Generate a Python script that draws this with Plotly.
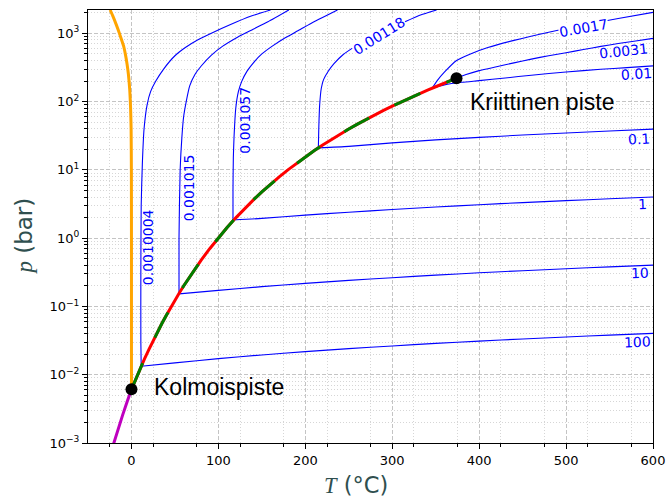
import math
import plotly.graph_objects as go

# ---------------- data (T in °C, p in bar) ----------------
# vaporization (saturation) curve
sat_T = [0.01, 5, 10, 15, 20, 25, 30, 35, 40, 45, 50, 55, 60, 70, 80, 90, 100, 110, 120,
         130, 140, 150, 160, 170, 180, 190, 200, 210, 220, 230, 240, 250, 260, 270, 280,
         290, 300, 310, 320, 330, 340, 350, 360, 370, 373.946]
sat_p = [0.006117, 0.008726, 0.012282, 0.017057, 0.023393, 0.031699, 0.042470, 0.056290,
         0.073849, 0.095950, 0.12352, 0.15761, 0.19946, 0.31201, 0.47416, 0.70183, 1.01418,
         1.4338, 1.9867, 2.7026, 3.6154, 4.7616, 6.1823, 7.9219, 10.028, 12.552, 15.549,
         19.077, 23.196, 27.971, 33.469, 39.762, 46.923, 55.030, 64.166, 74.418, 85.879,
         98.651, 112.84, 128.58, 146.01, 165.29, 186.66, 210.44, 220.64]

# melting curve
melt_T = [0.01, 0.0, -0.1, -0.4, -1.0, -2.0, -3.5, -5.0, -6.8, -9.0, -12.0, -15.0, -18.5, -21.5, -24.5]
melt_p = [0.006117, 1, 10, 40, 80, 150, 250, 350, 480, 650, 850, 1100, 1450, 1800, 2200]

# sublimation curve
sub_T = [-22, -20, -15, -10, -5, 0.01]
sub_p = [0.00085, 0.001035, 0.001653, 0.002600, 0.004018, 0.006117]

# isochores (specific volume in m3/kg)
iso_0010004_T = [11.2, 10.8, 10.8, 11.2, 12.5, 14.5, 18, 22, 28, 37, 50, 62, 76, 95, 114, 137, 160]
iso_0010004_p = [0.0133, 0.03, 0.3, 3, 12, 40, 90, 140, 200, 300, 470, 620, 800, 1050, 1350, 1780, 2200]

iso_001015_T = [54.7, 54.7, 56, 58, 60, 63, 67, 73, 80, 92, 105, 122, 140, 157, 181]
iso_001015_p = [0.153, 1, 10, 30, 60, 100, 170, 250, 330, 480, 650, 880, 1150, 1480, 2200]

iso_001057_T = [116.8, 116.8, 117.2, 118, 120, 123, 127, 133, 141, 150, 162, 176, 192, 210, 225, 237]
iso_001057_p = [1.85, 5, 15, 30, 80, 140, 200, 280, 380, 500, 650, 850, 1100, 1480, 1850, 2200]

iso_00118_T = [215, 215.5, 216.5, 218.4, 221, 226, 233, 243, 257, 274, 295, 316, 335, 351]
iso_00118_p = [20.8, 40, 89, 157, 210, 274, 360, 482, 640, 845, 1100, 1500, 1900, 2200]

iso_0017_T = [346, 352, 360, 374, 390, 410, 440, 480, 520, 560, 600]
iso_0017_p = [158, 205, 270, 400, 500, 620, 790, 1040, 1330, 1650, 2030]

iso_0031_T = [373.946, 385, 400, 420, 440, 460, 480, 500, 520, 540, 560, 580, 600]
iso_0031_p = [220.64, 250, 285, 325, 370, 420, 470, 520, 580, 645, 710, 775, 845]

iso_001_T = [346, 360, 380, 400, 430, 460, 500, 540, 570, 600]
iso_001_p = [158, 176, 192, 203, 222, 244, 272, 298, 315, 334]

iso_01_T = [215, 250, 300, 350, 400, 450, 500, 550, 600]
iso_01_p = [21.0, 22.1, 24.9, 27.5, 30.0, 32.4, 34.7, 37.2, 39.6]

iso_1_T = [116.8, 150, 200, 250, 300, 350, 400, 450, 500, 550, 600]
iso_1_p = [1.85, 1.95, 2.18, 2.40, 2.63, 2.86, 3.09, 3.32, 3.55, 3.78, 4.01]

iso_10_T = [54.7, 100, 150, 200, 250, 300, 350, 400, 450, 500, 550, 600]
iso_10_p = [0.153, 0.172, 0.195, 0.218, 0.241, 0.264, 0.288, 0.311, 0.334, 0.357, 0.380, 0.403]

iso_100_T = [11.2, 50, 100, 150, 200, 250, 300, 350, 400, 450, 500, 550, 600]
iso_100_p = [0.0133, 0.0149, 0.0172, 0.0195, 0.0218, 0.0241, 0.0264, 0.0288, 0.0311, 0.0334, 0.0357, 0.0380, 0.0403]

# isochore labels and where they sit
label_text = ["0.0010004", "0.001015", "0.001057", "0.00118", "0.0017", "0.0031",
              "0.01", "0.1", "1", "10", "100"]
label_T = [19.4, 66.3, 130.3, 284.5, 520, 566, 580.5, 584.4, 588.3, 585.4, 581.6]
label_p = [0.746, 5.39, 53.9, 930, 1200, 555, 252, 28.2, 3.16, 0.307, 0.0299]
label_angle = [-90, -90, -90, -32, -10, -6, -4, -3, -2, -2, -2]
label_inline = [False, False, False, True, True, False, False, False, False, False, False]

# special points
point_T = [0.01, 373.946]
point_p = [0.006117, 220.64]
point_name = ["Kolmoispiste", "Kriittinen piste"]
point_name_T = [24.1, 387.6]
point_name_p = [0.00667, 100]

x_tick_vals = [0, 100, 200, 300, 400, 500, 600]
x_tick_text = ["0", "100", "200", "300", "400", "500", "600"]
x_half_vals = [-50, 50, 150, 250, 350, 450, 550]
y_tick_vals = [1e-3, 1e-2, 1e-1, 1, 10, 100, 1000]
y_tick_text = ["10<sup>−3</sup>", "10<sup>−2</sup>", "10<sup>−1</sup>", "10<sup>0</sup>",
               "10<sup>1</sup>", "10<sup>2</sup>", "10<sup>3</sup>"]

# ---------------- figure ----------------
fig = go.Figure()

isochores = [
    (iso_0010004_T, iso_0010004_p), (iso_001015_T, iso_001015_p), (iso_001057_T, iso_001057_p),
    (iso_00118_T, iso_00118_p), (iso_0017_T, iso_0017_p), (iso_0031_T, iso_0031_p),
    (iso_001_T, iso_001_p), (iso_01_T, iso_01_p), (iso_1_T, iso_1_p),
    (iso_10_T, iso_10_p), (iso_100_T, iso_100_p),
]
for T, p in isochores:
    fig.add_trace(go.Scatter(x=T, y=p, mode="lines",
                             line=dict(color="#0000ff", width=1.1, shape="spline", smoothing=0.6),
                             hoverinfo="skip", showlegend=False))

fig.add_trace(go.Scatter(x=melt_T, y=melt_p, mode="lines",
                         line=dict(color="#ffa500", width=3, shape="spline", smoothing=0.6),
                         hoverinfo="skip", showlegend=False))
fig.add_trace(go.Scatter(x=sub_T, y=sub_p, mode="lines", line=dict(color="#bf00bf", width=3),
                         hoverinfo="skip", showlegend=False))
fig.add_trace(go.Scatter(x=sat_T, y=sat_p, mode="lines", line=dict(color="#ff0000", width=3),
                         hoverinfo="skip", showlegend=False))
fig.add_trace(go.Scatter(x=sat_T, y=sat_p, mode="lines",
                         line=dict(color="#008000", width=3, dash="28.4px,28.4px"),
                         hoverinfo="skip", showlegend=False))
fig.add_trace(go.Scatter(x=point_T, y=point_p, mode="markers", marker=dict(color="black", size=12),
                         hoverinfo="skip", showlegend=False))

annotations = []
for txt, T, p, ang, inl in zip(label_text, label_T, label_p, label_angle, label_inline):
    ann = dict(x=T, y=math.log10(p), xref="x", yref="y", text=txt, showarrow=False,
               textangle=ang, font=dict(family="DejaVu Sans", size=14, color="#0000ff"))
    if inl:
        ann.update(bgcolor="white", borderpad=0)
    annotations.append(ann)
for txt, T, p in zip(point_name, point_name_T, point_name_p):
    annotations.append(dict(x=T, y=math.log10(p), xref="x", yref="y", text=txt, showarrow=False,
                            xanchor="left", yanchor="middle",
                            font=dict(family="Liberation Sans", size=23, color="black")))

title_color = "#2f4f4f"
annotations.append(dict(x=0.474, y=-0.097, xref="paper", yref="paper", showarrow=False,
                        text="<span style='font-family:Liberation Serif'><i>T</i></span> (°C)",
                        xanchor="center", yanchor="middle",
                        font=dict(family="DejaVu Sans", size=22.5, color=title_color)))
annotations.append(dict(x=-0.114, y=0.478, xref="paper", yref="paper", showarrow=False,
                        text="<span style='font-family:Liberation Serif'><i>p</i></span> (bar)",
                        textangle=-90, xanchor="center", yanchor="middle",
                        font=dict(family="DejaVu Sans", size=23, color=title_color)))

major_grid = "#c4c4c4"
minor_grid = "#d6d6d6"
y_minor = [m * 10 ** e for e in range(-3, 4) for m in range(2, 10) if m * 10 ** e <= 2200]
x_minor = list(range(-25, 600, 50))

fig.update_layout(
    width=668, height=499,
    margin=dict(l=88, r=15, t=10, b=56),
    plot_bgcolor="white", paper_bgcolor="white",
    annotations=annotations,
    xaxis=dict(range=[-50, 600], tickmode="array", tickvals=x_tick_vals, ticktext=x_tick_text,
               automargin=False,
               ticks="outside", ticklen=5, tickcolor="black", showline=True, linecolor="black",
               linewidth=1, mirror=True, showgrid=True, gridcolor=major_grid, griddash="4px,2px",
               gridwidth=1, zeroline=False,
               tickfont=dict(family="DejaVu Sans", size=13, color="black"),
               minor=dict(tickmode="array", tickvals=x_minor, ticks="outside", ticklen=3,
                          tickcolor="black", showgrid=True, gridcolor=minor_grid, griddash="1px,2px")),
    xaxis2=dict(range=[-50, 600], overlaying="x", side="bottom", matches="x", tickmode="array",
                tickvals=x_half_vals, showticklabels=False, automargin=False,
                ticks="outside", ticklen=3, tickcolor="black", showline=False,
                showgrid=True, gridcolor=major_grid, griddash="4px,2px", gridwidth=1, zeroline=False),
    yaxis=dict(type="log", range=[-3, math.log10(2200)], tickmode="array", tickvals=y_tick_vals,
               ticktext=y_tick_text, automargin=False,
               ticks="outside", ticklen=5, tickcolor="black", showline=True,
               linecolor="black", linewidth=1, mirror=True, showgrid=True, gridcolor=major_grid,
               griddash="4px,2px", gridwidth=1, zeroline=False,
               tickfont=dict(family="DejaVu Sans", size=13, color="black"),
               minor=dict(tickmode="array", tickvals=y_minor, ticks="outside", ticklen=3,
                          tickcolor="black", showgrid=True, gridcolor=minor_grid, griddash="1px,2px")),
)

fig.write_html("out.html")
